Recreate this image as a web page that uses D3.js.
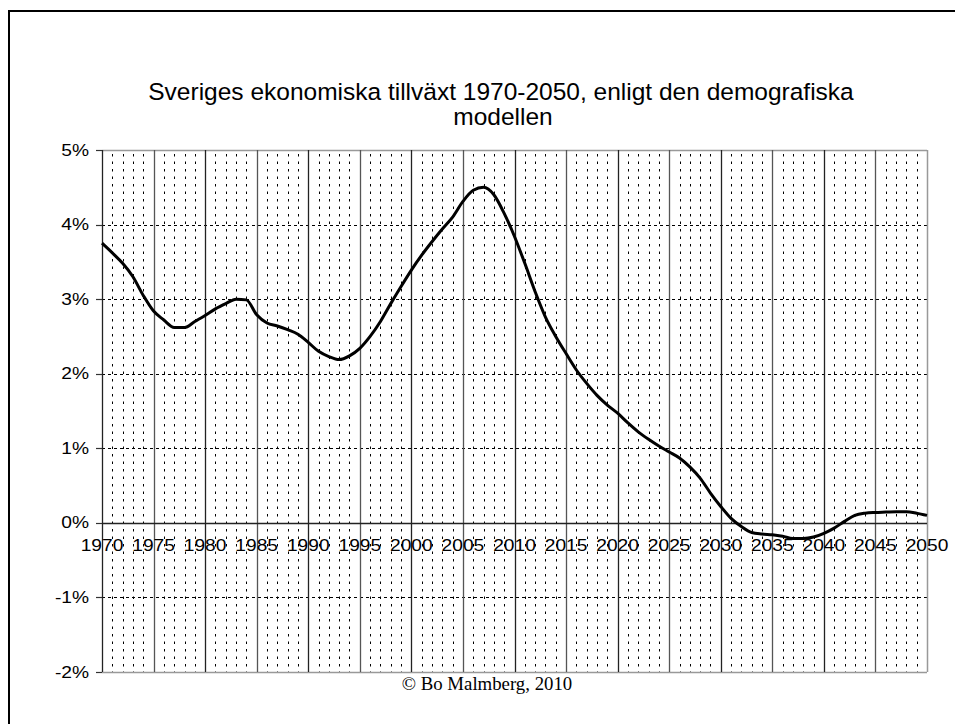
<!DOCTYPE html>
<html>
<head>
<meta charset="utf-8">
<script src="https://cdn.jsdelivr.net/npm/d3@7"></script>
<style>
  body { margin: 0; background: #fff; }
  svg { display: block; }
  .ylab { font-family: "Liberation Sans", Arial, sans-serif; font-size: 16px; }
  .xlab { font-family: "Liberation Sans", Arial, sans-serif; font-size: 16px; }
  #title { font-family: "Liberation Sans", Arial, sans-serif; font-size: 24.5px; }
  #source { font-family: "Liberation Serif", "Times New Roman", serif; font-size: 18.8px; }
</style>
</head>
<body>
<script>
const width = 955;
const height = 724;

// data (yearly growth, percent)
const years = [
  1970, 1971, 1972, 1973, 1974, 1975, 1976, 1977, 1978, 1979,
  1980, 1981, 1982, 1983, 1984, 1985, 1986, 1987, 1988, 1989,
  1990, 1991, 1992, 1993, 1994, 1995, 1996, 1997, 1998, 1999,
  2000, 2001, 2002, 2003, 2004, 2005, 2006, 2007, 2008, 2009,
  2010, 2011, 2012, 2013, 2014, 2015, 2016, 2017, 2018, 2019,
  2020, 2021, 2022, 2023, 2024, 2025, 2026, 2027, 2028, 2029,
  2030, 2031, 2032, 2033, 2034, 2035, 2036, 2037, 2038, 2039,
  2040, 2041, 2042, 2043, 2044, 2045, 2046, 2047, 2048, 2049,
  2050
];
const growth = [
  3.75, 3.62, 3.48, 3.30, 3.05, 2.84, 2.72, 2.62, 2.62, 2.70,
  2.78, 2.87, 2.94, 3.00, 2.99, 2.79, 2.68, 2.64, 2.59, 2.53,
  2.42, 2.30, 2.23, 2.19, 2.24, 2.34, 2.50, 2.70, 2.94, 3.17,
  3.39, 3.59, 3.77, 3.94, 4.10, 4.31, 4.46, 4.50, 4.40, 4.15,
  3.84, 3.48, 3.10, 2.76, 2.50, 2.27, 2.05, 1.87, 1.71, 1.58,
  1.47, 1.34, 1.22, 1.12, 1.03, 0.95, 0.87, 0.75, 0.60, 0.40,
  0.22, 0.06, -0.05, -0.13, -0.15, -0.16, -0.18, -0.21, -0.21, -0.19,
  -0.14, -0.07, 0.02, 0.10, 0.13, 0.14, 0.145, 0.15, 0.15, 0.13,
  0.10
];
const xTicks = [1970, 1975, 1980, 1985, 1990, 1995, 2000, 2005, 2010,
                2015, 2020, 2025, 2030, 2035, 2040, 2045, 2050];
const yTicks = [-2, -1, 0, 1, 2, 3, 4, 5];
const titleLines = ['Sveriges ekonomiska tillväxt 1970-2050, enligt den demografiska', 'modellen'];
const sourceText = '© Bo Malmberg, 2010';

const plotLeft = 102, plotRight = 927, plotTop = 150, plotBottom = 672;
const labelStretch = 1.2; // axis labels are drawn wider than they are tall

const x = d3.scaleLinear().domain([1970, 2050]).range([plotLeft, plotRight]);
const y = d3.scaleLinear().domain([-2, 5]).range([plotBottom, plotTop]);

const svg = d3.select('body')
              .append('svg')
              .attr('width', width)
              .attr('height', height);

// outer frame (runs off the right and bottom edge)
svg.append('rect')
  .attr('x', 9)
  .attr('y', 11)
  .attr('width', 1000)
  .attr('height', 800)
  .attr('fill', 'none')
  .attr('stroke', '#000')
  .attr('stroke-width', 2);

const grid = svg.append('g');

// yearly dotted lines
const minorYears = years.filter(d => xTicks.indexOf(d) < 0);
grid.selectAll('line.minor')
  .data(minorYears)
  .enter()
  .append('line')
  .attr('class', 'minor')
  .attr('x1', d => Math.round(x(d)) + 0.5)
  .attr('x2', d => Math.round(x(d)) + 0.5)
  .attr('y1', plotTop + 4)
  .attr('y2', plotBottom)
  .attr('stroke', '#000')
  .attr('stroke-width', 1)
  .attr('stroke-dasharray', '2.5,5');

// horizontal dashed gridlines
grid.selectAll('line.hgrid')
  .data(yTicks.filter(d => d !== 0 && d !== 5 && d !== -2))
  .enter()
  .append('line')
  .attr('class', 'hgrid')
  .attr('x1', plotLeft)
  .attr('x2', plotRight)
  .attr('y1', d => Math.round(y(d)) + 0.5)
  .attr('y2', d => Math.round(y(d)) + 0.5)
  .attr('stroke', '#000')
  .attr('stroke-width', 1)
  .attr('stroke-dasharray', '3,3');

// top and bottom edges (grey)
grid.selectAll('line.edge')
  .data([5, -2])
  .enter()
  .append('line')
  .attr('class', 'edge')
  .attr('x1', plotLeft)
  .attr('x2', plotRight)
  .attr('y1', d => Math.round(y(d)) + 0.5)
  .attr('y2', d => Math.round(y(d)) + 0.5)
  .attr('stroke', '#999')
  .attr('stroke-width', 1.5);

// 5-year solid lines
grid.selectAll('line.major')
  .data(xTicks)
  .enter()
  .append('line')
  .attr('class', 'major')
  .attr('x1', d => Math.round(x(d)) + 0.5)
  .attr('x2', d => Math.round(x(d)) + 0.5)
  .attr('y1', plotTop)
  .attr('y2', plotBottom)
  .attr('stroke', (d, i) => i === xTicks.length - 1 ? '#999' : (i % 2 ? '#555' : '#222'))
  .attr('stroke-width', (d, i) => i === xTicks.length - 1 ? 1.5 : 1.3);

// y ticks
grid.selectAll('line.ytick')
  .data(yTicks)
  .enter()
  .append('line')
  .attr('class', 'ytick')
  .attr('x1', plotLeft - 6)
  .attr('x2', plotLeft)
  .attr('y1', d => Math.round(y(d)) + 0.5)
  .attr('y2', d => Math.round(y(d)) + 0.5)
  .attr('stroke', '#333')
  .attr('stroke-width', 1.2);

// zero line
grid.append('line')
  .attr('x1', plotLeft)
  .attr('x2', plotRight)
  .attr('y1', Math.round(y(0)) + 0.5)
  .attr('y2', Math.round(y(0)) + 0.5)
  .attr('stroke', '#222')
  .attr('stroke-width', 1.3);

// y labels
svg.selectAll('text.ylab')
  .data(yTicks)
  .enter()
  .append('text')
  .attr('class', 'ylab')
  .attr('transform', d => 'translate(' + (plotLeft - 13) + ',' + (y(d) + 5.5) + ') scale(' + labelStretch + ',1)')
  .attr('text-anchor', 'end')
  .text(d => d + '%');

// x labels under the zero line
svg.selectAll('text.xlab')
  .data(xTicks)
  .enter()
  .append('text')
  .attr('class', 'xlab')
  .attr('transform', d => 'translate(' + x(d) + ',' + (y(0) + 28) + ') scale(' + labelStretch + ',1)')
  .attr('text-anchor', 'middle')
  .text(d => d);

// the growth curve
const line = d3.line()
  .x(d => x(d[0]))
  .y(d => y(d[1]))
  .curve(d3.curveMonotoneX);

svg.append('path')
  .datum(d3.zip(years, growth))
  .attr('d', line)
  .attr('fill', 'none')
  .attr('stroke', '#000')
  .attr('stroke-width', 3)
  .attr('stroke-linejoin', 'round');

// title
const title = svg.append('text')
  .attr('id', 'title')
  .attr('text-anchor', 'middle');
title.append('tspan')
  .attr('x', 501)
  .attr('y', 100)
  .text(titleLines[0]);
title.append('tspan')
  .attr('x', 503)
  .attr('y', 125)
  .text(titleLines[1]);

svg.append('text')
  .attr('id', 'source')
  .attr('x', 487)
  .attr('y', 690)
  .attr('text-anchor', 'middle')
  .text(sourceText);
</script>
</body>
</html>
